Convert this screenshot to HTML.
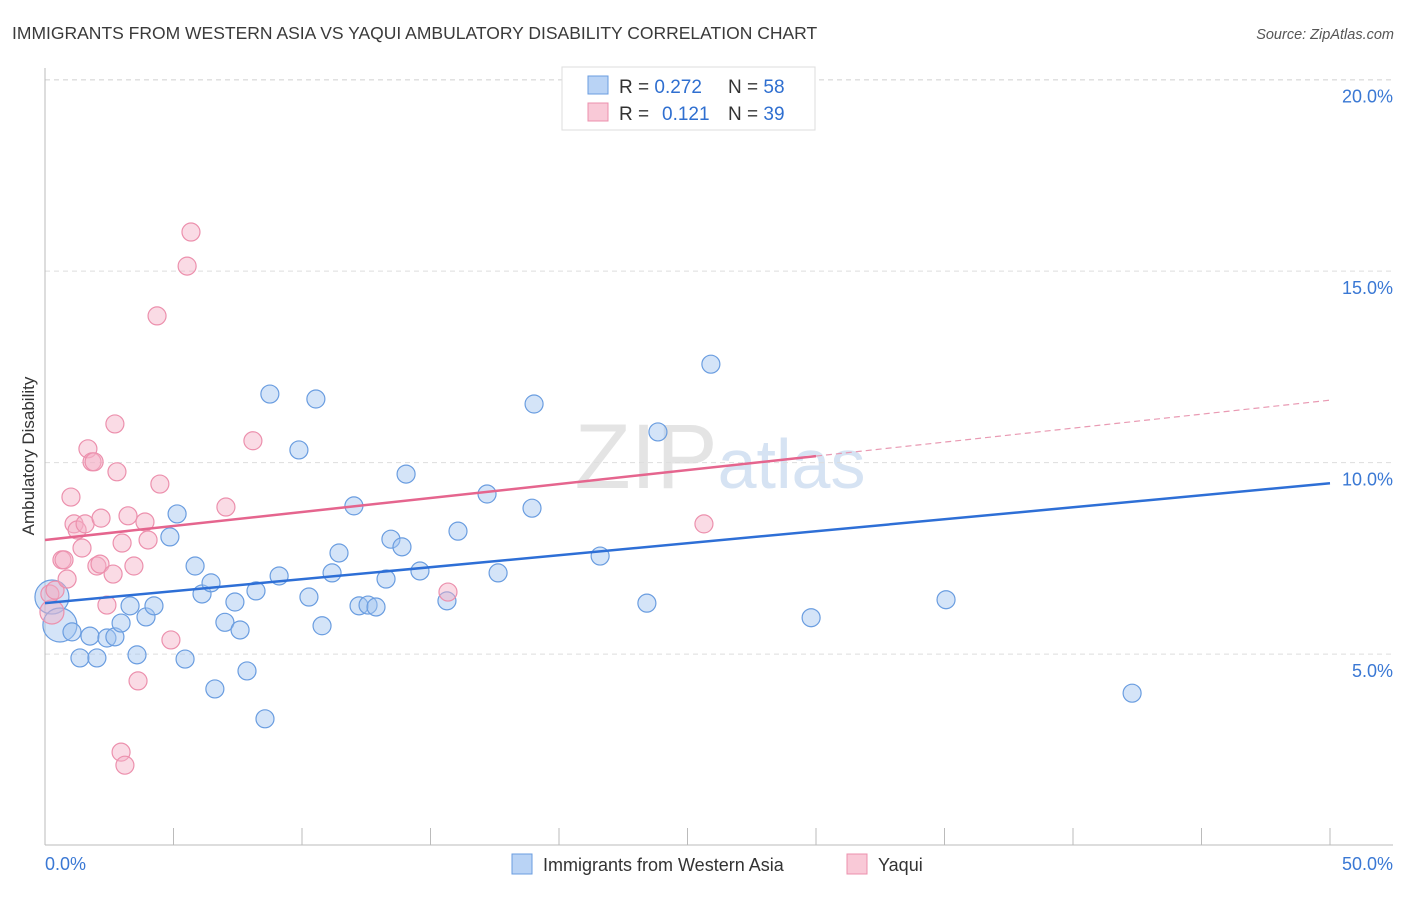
<!DOCTYPE html>
<html><head><meta charset="utf-8"><style>
body{margin:0;background:#fff;font-family:"Liberation Sans",sans-serif}
svg text{font-family:"Liberation Sans",sans-serif}
</style></head><body>
<svg id="c" width="1406" height="892">
<text x="12" y="39" font-size="17.5" fill="#3a3a3a">IMMIGRANTS FROM WESTERN ASIA VS YAQUI AMBULATORY DISABILITY CORRELATION CHART</text>
<text x="1394" y="39" font-size="14.5" fill="#555" font-style="italic" text-anchor="end">Source: ZipAtlas.com</text>
<text x="720" y="488" font-size="92" fill="#e4e4e4" text-anchor="middle" font-family="Liberation Serif">ZIP<tspan fill="#d6e3f3" font-family="Liberation Sans" font-size="70">atlas</tspan></text>
<g id="grid"></g><g id="axes"></g><g id="pts"></g><g id="trends"></g>
<text transform="translate(34,456) rotate(-90)" font-size="17" fill="#333" text-anchor="middle">Ambulatory Disability</text>
<g>
<rect x="562" y="67" width="253" height="63" fill="#fff" stroke="#ddd"/>
<rect x="588" y="76" width="20" height="18" fill="#b9d3f5" stroke="#6a9de0"/>
<rect x="588" y="103" width="20" height="18" fill="#f9c9d7" stroke="#ec90ad"/>
<text x="619" y="93" font-size="19" fill="#333">R = <tspan fill="#2f6fd0">0.272</tspan><tspan x="728">N = </tspan><tspan fill="#2f6fd0">58</tspan></text>
<text x="619" y="120" font-size="19" fill="#333">R = <tspan x="662" fill="#2f6fd0">0.121</tspan><tspan x="728">N = </tspan><tspan fill="#2f6fd0">39</tspan></text>
</g>
<g>
<rect x="512" y="854" width="20" height="20" fill="#b9d3f5" stroke="#6a9de0"/>
<text x="543" y="871" font-size="18" fill="#333">Immigrants from Western Asia</text>
<rect x="847" y="854" width="20" height="20" fill="#f9c9d7" stroke="#ec90ad"/>
<text x="878" y="871" font-size="18" fill="#333">Yaqui</text>
</g>
</svg>
<script>
const blueX=[0.27,0.58,1.05,1.75,1.36,2.02,2.41,2.72,2.96,3.31,3.58,3.93,4.24,5.14,4.86,5.45,5.84,6.11,6.46,6.61,7.00,7.39,7.59,7.86,8.21,8.56,8.75,9.11,9.88,10.27,10.54,10.78,11.17,11.44,12.02,12.22,12.57,12.88,13.27,13.46,13.89,14.05,14.59,15.64,16.07,17.20,17.63,18.95,19.03,21.60,23.42,23.85,25.91,29.81,35.06,42.30];
const blueY=[6.49,5.76,5.58,5.47,4.90,4.90,5.42,5.45,5.81,6.26,4.98,5.97,6.26,8.66,8.06,4.87,7.30,6.57,6.86,4.09,5.83,6.36,5.63,4.56,6.65,3.31,11.79,7.04,10.33,6.49,11.66,5.74,7.12,7.64,8.87,6.26,6.28,6.23,6.96,8.00,7.80,9.70,7.17,6.39,8.21,9.18,7.12,8.81,11.53,7.56,6.33,10.80,12.57,5.95,6.42,3.98];
const pinkX=[0.27,0.19,0.39,0.66,0.74,0.86,1.01,1.13,1.25,1.44,1.56,1.67,1.83,1.91,2.02,2.14,2.18,2.41,2.65,2.72,2.80,3.00,3.23,3.46,3.62,2.96,3.11,3.89,4.01,4.47,4.36,4.90,5.53,5.68,7.04,8.09,15.68,25.64];
const pinkY=[6.10,6.57,6.67,7.46,7.46,6.96,9.10,8.40,8.24,7.77,8.40,10.36,10.02,10.02,7.30,7.35,8.55,6.28,7.09,11.01,9.76,7.90,8.61,7.30,4.30,2.44,2.10,8.45,7.98,9.44,13.83,5.37,15.13,16.02,8.84,10.57,6.62,8.40];
const blueTrend=[6.33,9.46];
const pinkTrend=[7.98,10.17,11.63];
const pinkTrendEndX=30;
const yTicks=[5,10,15,20];
const xTickCount=10;
const X=v=>45+v*25.7, Y=v=>845.6-v*38.3;
const NS="http://www.w3.org/2000/svg";
function mk(p,tag,a){const e=document.createElementNS(NS,tag);for(const k in a)e.setAttribute(k,a[k]);document.getElementById(p).appendChild(e);return e;}
yTicks.forEach(t=>{
 const l=mk('grid','line',{x1:45,x2:1393,y1:Y(t),y2:Y(t),stroke:'#ddd','stroke-dasharray':'5,4'});
 
 
 const tx=mk('grid','text',{x:1393,y:Y(t)+23,'font-size':18,fill:'#3a78d4','text-anchor':'end'});
 tx.textContent=t.toFixed(1)+'%';
 
 
});
const tl=mk('grid','line',{x1:45,x2:1393,y1:80,y2:80,stroke:'#ddd','stroke-dasharray':'5,4'});


const ya=mk('axes','line',{x1:45,x2:45,y1:68,y2:845,stroke:'#bbb'});


const xa=mk('axes','line',{x1:45,x2:1393,y1:845,y2:845,stroke:'#bbb'});


for(let i=0;i<=xTickCount;i++){const v=i*5;
 const t=mk('axes','line',{x1:X(v),x2:X(v),y1:828,y2:845,stroke:'#bbb'});
 
 
}
const x0=mk('axes','text',{x:45,y:870,'font-size':18,fill:'#3a78d4'});x0.textContent='0.0%';


const x1=mk('axes','text',{x:1393,y:870,'font-size':18,fill:'#3a78d4','text-anchor':'end'});x1.textContent='50.0%';


blueX.forEach((v,i)=>{
 const c=mk('pts','circle',{cx:X(v),cy:Y(blueY[i]),r:i<2?17:9,fill:'rgba(160,195,240,0.45)',stroke:'#6a9de0','stroke-width':1.2});
 
 
});
pinkX.forEach((v,i)=>{
 const c=mk('pts','circle',{cx:X(v),cy:Y(pinkY[i]),r:i<1?12:9,fill:'rgba(245,175,198,0.45)',stroke:'#ec90ad','stroke-width':1.2});
 
 
});
const b=mk('trends','line',{x1:X(0),y1:Y(blueTrend[0]),x2:X(50),y2:Y(blueTrend[1]),stroke:'#2e6fd6','stroke-width':2.5});


const p=mk('trends','line',{x1:X(0),y1:Y(pinkTrend[0]),x2:X(pinkTrendEndX),y2:Y(pinkTrend[1]),stroke:'#e5658e','stroke-width':2.5});


const pd=mk('trends','line',{x1:X(pinkTrendEndX),y1:Y(pinkTrend[1]),x2:X(50),y2:Y(pinkTrend[2]),stroke:'#e99ab3','stroke-width':1.2,'stroke-dasharray':'6,4'});


</script>
</body></html>
